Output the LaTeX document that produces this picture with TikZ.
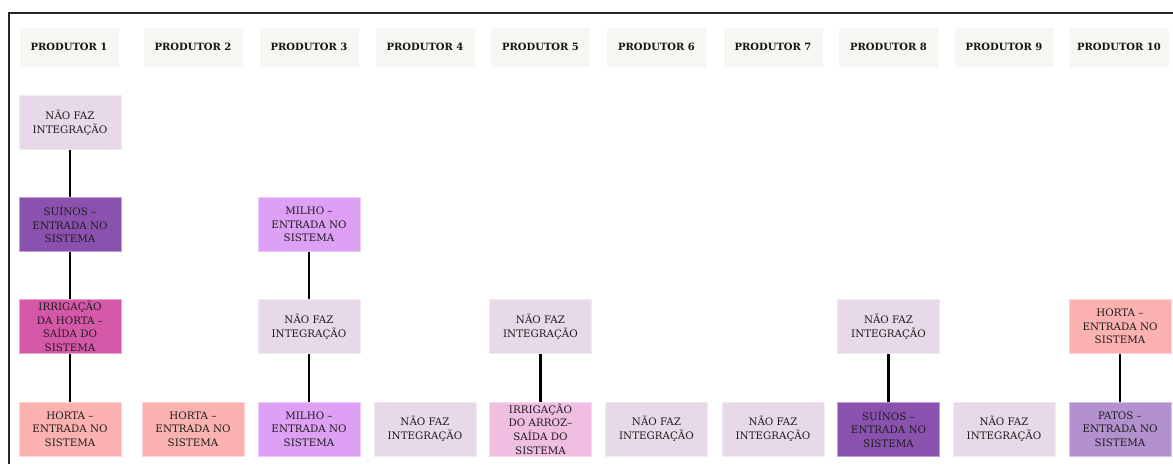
\documentclass[tikz,border=0pt]{standalone}
\usepackage{fontspec}
\setmainfont{DejaVu Serif}
\definecolor{headfill}{HTML}{F7F6F2}
\definecolor{naofill}{HTML}{E8D9E8}
\definecolor{suinofill}{HTML}{8A52AE}
\definecolor{irrhfill}{HTML}{D558A8}
\definecolor{hortafill}{HTML}{FCB2B0}
\definecolor{milhofill}{HTML}{DDA0F5}
\definecolor{irrafill}{HTML}{F0BEE1}
\definecolor{patosfill}{HTML}{B291CE}
\definecolor{txt}{HTML}{1E1E1E}
\tikzset{
  head/.style={fill=headfill, draw=white, line width=0.8pt, minimum width=100pt, minimum height=40pt,
    inner sep=0pt, text=black!92, font=\fontsize{10}{12}\selectfont\bfseries},
  item/.style={fill=#1, draw=#1!55!white, line width=0.8pt, minimum width=102pt, minimum height=54pt,
    inner sep=0pt, align=center, text=txt, font=\fontsize{10.3}{13.6}\selectfont},
  link/.style={line width=2.2pt, black}
}
\begin{document}
\begin{tikzpicture}[x=1pt,y=-1pt]
\useasboundingbox (0,0) rectangle (1173,464);
% outer frame (top and left edges)
\draw[line width=2.4pt, black!85] (1173,13) -- (9,13) -- (9,464);
% column headers
\node[head] (h1)  at (69,47)    {PRODUTOR 1};
\node[head] (h2)  at (193,47)   {PRODUTOR 2};
\node[head] (h3)  at (309,47)   {PRODUTOR 3};
\node[head] (h4)  at (425,47)   {PRODUTOR 4};
\node[head] (h5)  at (540.5,47) {PRODUTOR 5};
\node[head] (h6)  at (656.5,47) {PRODUTOR 6};
\node[head] (h7)  at (773,47)   {PRODUTOR 7};
\node[head] (h8)  at (888.5,47) {PRODUTOR 8};
\node[head] (h9)  at (1004,47)  {PRODUTOR 9};
\node[head] (h10) at (1119,47)  {PRODUTOR 10};
% producer 1
\node[item=naofill]   (p1a) at (70,122.5) {NÃO FAZ\\INTEGRAÇÃO};
\node[item=suinofill] (p1b) at (70,224.5) {SUÍNOS –\\ENTRADA NO\\SISTEMA};
\node[item=irrhfill]  (p1c) at (70,326.5) {IRRIGAÇÃO\\DA HORTA –\\SAÍDA DO\\SISTEMA};
\node[item=hortafill] (p1d) at (70,429)   {HORTA –\\ENTRADA NO\\SISTEMA};
% producer 2
\node[item=hortafill] (p2a) at (193,429)  {HORTA –\\ENTRADA NO\\SISTEMA};
% producer 3
\node[item=milhofill] (p3a) at (309,224.5) {MILHO –\\ENTRADA NO\\SISTEMA};
\node[item=naofill]   (p3b) at (309,326.5) {NÃO FAZ\\INTEGRAÇÃO};
\node[item=milhofill] (p3c) at (309,429)   {MILHO –\\ENTRADA NO\\SISTEMA};
% producer 4
\node[item=naofill]   (p4a) at (425,429)   {NÃO FAZ\\INTEGRAÇÃO};
% producer 5
\node[item=naofill]   (p5a) at (540.5,326.5) {NÃO FAZ\\INTEGRAÇÃO};
\node[item=irrafill]  (p5b) at (540.5,429)   {IRRIGAÇÃO\\DO ARROZ–\\SAÍDA DO\\SISTEMA};
% producers 6 and 7
\node[item=naofill]   (p6a) at (656.5,429)   {NÃO FAZ\\INTEGRAÇÃO};
\node[item=naofill]   (p7a) at (773,429)     {NÃO FAZ\\INTEGRAÇÃO};
% producer 8
\node[item=naofill]   (p8a) at (888.5,326.5) {NÃO FAZ\\INTEGRAÇÃO};
\node[item=suinofill] (p8b) at (888.5,429)   {SUÍNOS –\\ENTRADA NO\\SISTEMA};
% producer 9
\node[item=naofill]   (p9a) at (1004,429)    {NÃO FAZ\\INTEGRAÇÃO};
% producer 10
\node[item=hortafill] (p10a) at (1120,326.5) {HORTA –\\ENTRADA NO\\SISTEMA};
\node[item=patosfill] (p10b) at (1120,429)   {PATOS –\\ENTRADA NO\\SISTEMA};
% connectors
\draw[link] (p1a) -- (p1b);
\draw[link] (p1b) -- (p1c);
\draw[link] (p1c) -- (p1d);
\draw[link] (p3a) -- (p3b);
\draw[link] (p3b) -- (p3c);
\draw[link] (p5a) -- (p5b);
\draw[link] (p8a) -- (p8b);
\draw[link] (p10a) -- (p10b);
\end{tikzpicture}
\end{document}
